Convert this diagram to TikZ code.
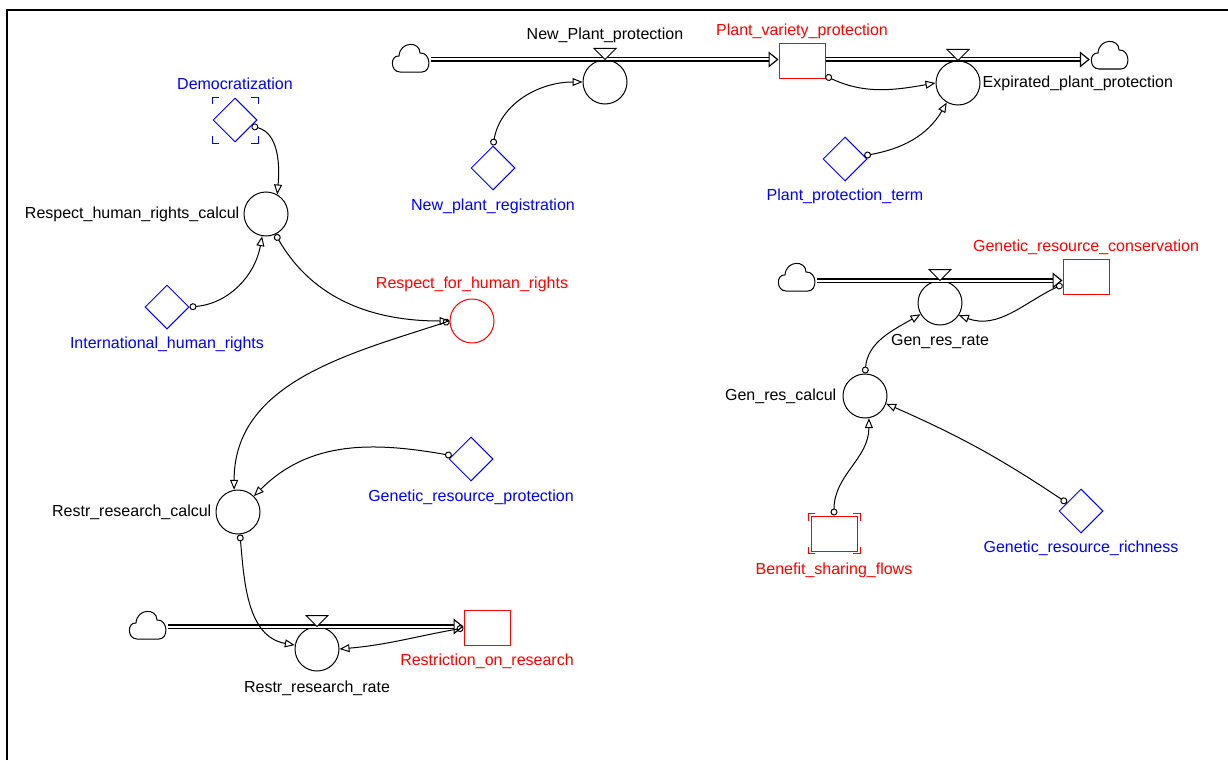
\documentclass[tikz,border=0pt]{standalone}
\usepackage{fontspec}
\setmainfont{Liberation Sans}
\usetikzlibrary{arrows.meta,shapes.geometric}
\newcommand{\vsfont}{\fontsize{16}{18}\selectfont}
\newcommand{\valve}[1]{\draw[line width=1pt, fill=white] (#1.north) -- ++(-11,11) -- ++(22,0) -- cycle;}
\newcommand{\ghostmarks}[4]{%
  \draw[#2, line width=1pt] (#1.center) ++(-#3,#4-7) -- ++(0,7) -- ++(7,0);
  \draw[#2, line width=1pt] (#1.center) ++(#3,#4-7) -- ++(0,7) -- ++(-7,0);
  \draw[#2, line width=1pt] (#1.center) ++(-#3,-#4+7) -- ++(0,-7) -- ++(7,0);
  \draw[#2, line width=1pt] (#1.center) ++(#3,-#4+7) -- ++(0,-7) -- ++(-7,0);}
\tikzset{
  aux/.style={circle, draw, line width=1pt, minimum size=44pt, inner sep=0pt},
  cnst/.style={diamond, draw=blue, line width=1pt, minimum size=44pt, inner sep=0pt},
  stock/.style={rectangle, draw=red, line width=1pt, minimum width=46pt, minimum height=35pt, inner sep=0pt},
  lbl/.style={font=\vsfont, inner sep=0pt},
  conn/.style={line width=1pt, {Circle[open,length=7pt,width=7pt]}-{Triangle[open,length=10pt,width=8pt]}},
  pipe/.style={double, double distance=2pt, line width=1.2pt, -{Triangle[open,length=10pt,width=16pt]}},
  pics/srccloud/.style={code={
    \draw[line width=1pt, fill=white] (-11,-14) .. controls (-21,-14) and (-21,3) .. (-12,2)
      .. controls (-11,17) and (9,17) .. (9,5)
      .. controls (20,6) and (21,-14) .. (11,-14) -- cycle;
    \node[inner sep=0pt, minimum width=40pt, minimum height=30pt] (-c) {};}}}

\begin{document}
\begin{tikzpicture}[x=1pt, y=1pt]
  \useasboundingbox (0,0) rectangle (1228,-760);
  \draw[line width=2pt] (7,-760) -- (7,-10) -- (1228,-10);

  % plant protection
  \node[aux, label={[lbl,label distance=16pt]above:New\_Plant\_protection}] (npp) at (605,-82) {};
  \node[stock, label={[lbl,red,label distance=4pt]above:Plant\_variety\_protection}] (pvp) at (802,-61) {};
  \node[aux, label={[lbl,label distance=2pt]right:Expirated\_plant\_protection}] (epp) at (958,-83) {};
  \node[cnst, label={[lbl,blue,label distance=7pt]below:Plant\_protection\_term}] (ppt) at (845,-159) {};
  \node[cnst, label={[lbl,blue,label distance=8pt]below:New\_plant\_registration}] (npr) at (493,-168) {};
  \pic (c1) at (411,-58) {srccloud};
  \pic (c2) at (1110,-55) {srccloud};
  \draw[pipe] (c1-c.east |- npp.north) -- (npp.north -| pvp.west);
  \draw[pipe] (npp.north -| pvp.east) -- (npp.north -| c2-c.west);
  \valve{npp}
  \valve{epp}
  \draw[conn] (npr.north) to[out=80,in=180] (npp.west);
  \draw[conn] ([yshift=3pt]pvp.south east) to[out=-25,in=190] (epp.west);
  \draw[conn] (ppt.10) to[out=10,in=-120] (epp.-120);

  % human rights
  \node[cnst, label={[lbl,blue,label distance=8pt]above:Democratization}] (dem) at (235,-120) {};
  \ghostmarks{dem}{blue}{23}{23}
  \node[aux, label={[lbl,label distance=4pt]left:Respect\_human\_rights\_calcul}] (rhc) at (266,-214) {};
  \node[cnst, label={[lbl,blue,label distance=7pt]below:International\_human\_rights}] (ihr) at (167,-307) {};
  \node[aux, draw=red, label={[lbl,red,label distance=6pt]above:Respect\_for\_human\_rights}] (rfhr) at (472,-321) {};
  \draw[conn] (dem.-20) to[out=-15,in=85] (rhc.60);
  \draw[conn] (ihr.east) to[out=5,in=-100] (rhc.-100);
  \draw[conn] (rhc.-65) to[out=-60,in=180] (rfhr.west);

  % restriction on research
  \node[aux, label={[lbl,label distance=4pt]left:Restr\_research\_calcul}] (rrc) at (238,-512) {};
  \node[cnst, label={[lbl,blue,label distance=8pt]below:Genetic\_resource\_protection}] (grp) at (471,-459) {};
  \node[aux, label={[lbl,label distance=9pt]below:Restr\_research\_rate}] (rrr) at (317,-649) {};
  \node[stock, label={[lbl,red,label distance=8pt]below:Restriction\_on\_research}] (ror) at (487,-628) {};
  \pic (c4) at (148,-625) {srccloud};
  \draw[pipe] (c4-c.east |- rrr.north) -- (rrr.north -| ror.west);
  \valve{rrr}
  \draw[conn] (rfhr.west) to[out=198,in=90] (rrc.100);
  \draw[conn] (grp.170) to[out=170,in=45] (rrc.45);
  \draw[conn] (rrc.-85) to[out=-85,in=170] (rrr.170);
  \draw[conn] (ror.west) to[out=190,in=5] (rrr.east);

  % genetic resources
  \node[stock, label={[lbl,red,label distance=4pt]above:Genetic\_resource\_conservation}] (grcs) at (1086,-276.5) {};
  \node[aux, label={[lbl,label distance=9pt]below:Gen\_res\_rate}] (grr) at (940,-303) {};
  \node[aux, label={[lbl,label distance=6pt]left:Gen\_res\_calcul}] (gcal) at (865,-396) {};
  \node[stock, label={[lbl,red,label distance=11pt]below:Benefit\_sharing\_flows}] (bsf) at (834,-533.5) {};
  \ghostmarks{bsf}{red}{26}{20}
  \node[cnst, label={[lbl,blue,label distance=7pt]below:Genetic\_resource\_richness}] (gri) at (1081,-511) {};
  \pic (c3) at (797,-277) {srccloud};
  \draw[pipe] (c3-c.east |- grr.north) -- (grr.north -| grcs.west);
  \valve{grr}
  \draw[conn] ([yshift=-8pt]grcs.west) to[out=205,in=-20] (grr.-33);
  \draw[conn] (gcal.north) to[out=85,in=210] (grr.210);
  \draw[conn] (bsf.north) to[out=90,in=-90] (gcal.-80);
  \draw[conn] (gri.150) to[bend right=5] (gcal.-20);
\end{tikzpicture}
\end{document}
